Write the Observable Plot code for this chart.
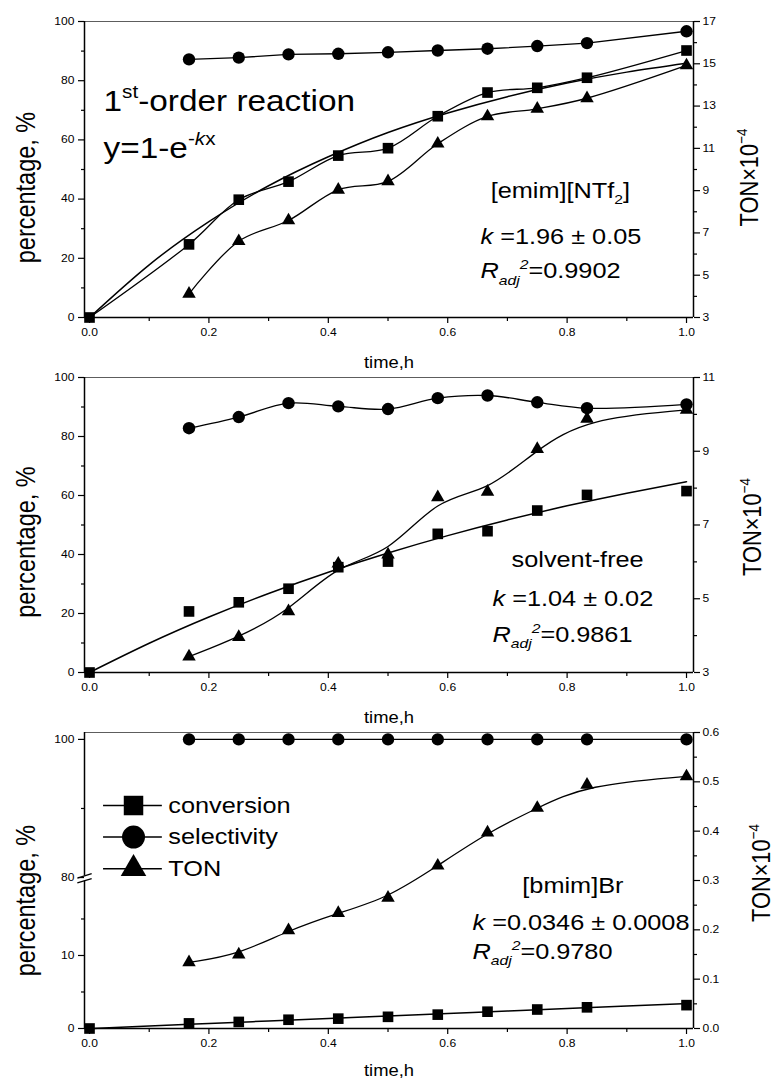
<!DOCTYPE html>
<html><head><meta charset="utf-8">
<script src="https://cdn.jsdelivr.net/npm/d3@7"></script>
<script src="https://cdn.jsdelivr.net/npm/@observablehq/plot@0.6"></script>
<style>body{margin:0;background:#fff}#chart{width:776px}#chart svg{display:block}</style>
</head><body><div id="chart"></div>
<script>
// ---------------- data ----------------
const times = [1/6, 0.25, 1/3, 5/12, 0.5, 7/12, 2/3, 0.75, 5/6, 1.0];
const convTimes = [0, 1/6, 0.25, 1/3, 5/12, 0.5, 7/12, 2/3, 0.75, 5/6, 1.0];
const fitTimes = [0, 0.1, 0.2, 0.3, 0.4, 0.5, 0.6, 0.7, 0.8, 0.9, 1.0];

// panel 1: [emim][NTf2]
const p1Conversion = [0, 24.7, 39.8, 45.9, 54.7, 57.2, 68.0, 76.0, 77.6, 81.0, 90.2];
const p1Selectivity = [87.2, 87.8, 88.9, 89.1, 89.6, 90.2, 90.8, 91.7, 92.7, 96.7];
const p1TON = [4.12, 6.61, 7.59, 9.04, 9.44, 11.22, 12.51, 12.87, 13.37, 14.92];
const p1Fit = [0, 17.8, 32.4, 44.5, 54.3, 62.5, 69.1, 74.6, 79.2, 82.9, 85.9];

// panel 2: solvent-free
const p2Conversion = [0, 20.7, 23.8, 28.4, 35.7, 37.6, 47.0, 47.9, 54.9, 60.2, 61.5];
const p2Selectivity = [82.8, 86.6, 91.3, 90.2, 89.3, 93.0, 93.9, 91.6, 89.6, 90.9];
const p2TON = [3.43, 3.96, 4.66, 5.95, 6.2, 7.75, 7.90, 9.06, 9.88, 10.12];
const p2Fit = [0, 9.9, 18.8, 26.8, 34.0, 40.5, 46.4, 51.7, 56.5, 60.8, 64.7];

// panel 3: [bmim]Br
const p3Conversion = [0, 0.7, 0.9, 1.2, 1.35, 1.6, 1.9, 2.3, 2.6, 2.9, 3.2];
const p3Selectivity = [100, 100, 100, 100, 100, 100, 100, 100, 100, 100];
const p3TON = [0.134, 0.150, 0.199, 0.234, 0.265, 0.330, 0.397, 0.447, 0.494, 0.511];
const p3Fit = [0, 0.35, 0.69, 1.03, 1.37, 1.71, 2.05, 2.39, 2.73, 3.07, 3.40];

// ticks
const xTicks = [0, 0.2, 0.4, 0.6, 0.8, 1.0];
const xMinor = [0.1, 0.3, 0.5, 0.7, 0.9];
const pctTicks = [0, 20, 40, 60, 80, 100];
const pctMinor = [10, 30, 50, 70, 90];
const p1TonTicks = [3, 5, 7, 9, 11, 13, 15, 17];
const p1TonMinor = [4, 6, 8, 10, 12, 14, 16];
const p2TonTicks = [3, 5, 7, 9, 11];
const p2TonMinor = [4, 6, 8, 10];
const p3PctTicks = [0, 10, 80, 100];
const p3PctMinor = [5, 15, 90];
const p3TonTicks = [0, 0.1, 0.2, 0.3, 0.4, 0.5, 0.6];
const p3TonMinor = [0.05, 0.15, 0.25, 0.35, 0.45, 0.55];

const legendLabels = ["conversion", "selectivity", "TON"];

// ---------------- layout / style ----------------
const FONT = "'Liberation Sans', Arial, Helvetica, sans-serif";
const W = 776, ML = 84, MR = 776 - 693;
const xDomain = [-0.0084, 1.0117];
const STRETCH = 1.15;

const RICH = {
  "1st-order reaction": [["1"], ["st", "sup"], ["-order reaction"]],
  "y=1-e-kx": [["y=1-e"], ["-", "sup"], ["k", "sup", "it"], ["x", "sup"]],
  "[emim][NTf2]": [["[emim][NTf"], ["2", "sub"], ["]"]],
  "k =1.96 ± 0.05": [["k", "it"], [" =1.96 ± 0.05"]],
  "k =1.04 ± 0.02": [["k", "it"], [" =1.04 ± 0.02"]],
  "k =0.0346 ± 0.0008": [["k", "it"], [" =0.0346 ± 0.0008"]],
  "Radj2=0.9902": [["R", "it"], ["adj", "sub", "it"], ["2", "sup", "it"], ["=0.9902"]],
  "Radj2=0.9861": [["R", "it"], ["adj", "sub", "it"], ["2", "sup", "it"], ["=0.9861"]],
  "Radj2=0.9780": [["R", "it"], ["adj", "sub", "it"], ["2", "sup", "it"], ["=0.9780"]],
  "TON×10-4": [["TON×10"], ["−4", "sup"]]
};

function finish(svg) {
  svg.querySelectorAll("text").forEach(t => {
    const segs = RICH[t.textContent];
    if (segs) {
      const fs = parseFloat(getComputedStyle(t).fontSize);
      t.textContent = "";
      let shift = 0;
      for (const [s, ...f] of segs) {
        const ts = document.createElementNS("http://www.w3.org/2000/svg", "tspan");
        ts.textContent = s;
        const sup = f.includes("sup"), sub = f.includes("sub");
        const target = sup ? -0.42 * fs : sub ? 0.28 * fs : 0;
        if (target !== shift) ts.setAttribute("dy", target - shift);
        shift = target;
        if (sup || sub) ts.setAttribute("font-size", 0.62 * fs);
        if (f.includes("it")) ts.setAttribute("font-style", "italic");
        t.appendChild(ts);
      }
    }
    const tr = t.getAttribute("transform") || "";
    t.setAttribute("transform", tr + (tr.includes("rotate") ? ` scale(1,${STRETCH})` : ` scale(${STRETCH},1)`));
  });
}

function axes(o) {
  return [
    Plot.axisX({ticks: xTicks, tickFormat: d3.format(".1f"), tickSize: 6, tickPadding: 5, strokeWidth: 1.2, label: null}),
    Plot.axisX({ticks: xMinor, tickSize: 4, strokeWidth: 1.2, fill: "none", label: null}),
    Plot.axisY({ticks: o.leftTicks, tickFormat: o.leftFmt, tickSize: 6, tickPadding: 4, strokeWidth: 1.2, label: null}),
    Plot.axisY({ticks: o.leftMinor, tickSize: 3, strokeWidth: 1.2, fill: "none", label: null}),
    Plot.axisY({anchor: "right", ticks: o.rightTicks, tickFormat: o.rightFmt, tickSize: 6, tickPadding: 3, strokeWidth: 1.2, label: null}),
    Plot.axisY({anchor: "right", ticks: o.rightMinor, tickSize: 3, strokeWidth: 1.2, fill: "none", label: null}),
    Plot.ruleY([o.yDomain[1]], {stroke: "#333", strokeWidth: 0.8}),
    Plot.ruleY([o.yDomain[0]], {strokeWidth: 1.5}),
    Plot.ruleX([xDomain[1]], {strokeWidth: 1.5}),
    Plot.text(["percentage, %"], {text: d => d, frameAnchor: "left", rotate: -90, dx: -50, dy: o.pctDy, lineAnchor: "bottom", textAnchor: "middle", fontSize: 23.5}),
    Plot.text(["TON×10-4"], {text: d => d, frameAnchor: "right", rotate: -90, dx: o.tonDx, dy: o.tonDy, lineAnchor: "bottom", textAnchor: "middle", fontSize: 21.8}),
    Plot.text(["time,h"], {text: d => d, frameAnchor: "bottom", dy: o.timeDy, lineAnchor: "bottom", textAnchor: "middle", fontSize: 16})
  ];
}

function series(o) {
  const m = [];
  m.push(Plot.line(fitTimes, {x: fitTimes, y: o.fit, curve: "natural", strokeWidth: 1.5}));
  if (o.convLine) m.push(Plot.line(convTimes, {x: convTimes, y: o.conv, curve: "catmull-rom", strokeWidth: 1.3}));
  m.push(Plot.line(times, {x: times, y: o.sel, curve: o.selCurve, strokeWidth: 1.3}));
  m.push(Plot.line(times, {x: times, y: o.ton, curve: o.tonCurve, strokeWidth: 1.3}));
  m.push(Plot.dot(convTimes, {x: convTimes, y: o.conv, symbol: "square", r: 6, fill: "black"}));
  m.push(Plot.dot(times, {x: times, y: o.sel, symbol: "circle", r: 6.2, fill: "black"}));
  m.push(Plot.dot(times, {x: times, y: o.ton, symbol: "triangle", r: 5, fill: "black"}));
  return m;
}

function notes(list, fs) {
  return list.map(([t, x, y, size]) => Plot.text([t], {text: d => d, x: x, y: y, textAnchor: "start", lineAnchor: "bottom", fontSize: size || fs}));
}

function render(opts, marks) {
  const svg = Plot.plot({
    width: W, height: opts.height,
    marginLeft: ML, marginRight: MR, marginTop: opts.mt, marginBottom: opts.mb,
    style: {fontFamily: FONT, fontSize: "10.5px", color: "black", background: "white", overflow: "visible"},
    x: {domain: xDomain},
    y: {domain: opts.yDomain},
    marks
  });
  document.getElementById("chart").append(svg);
  finish(svg);
}

// ---------------- panel 1 ----------------
{
  const ton = v => (v - 3) / 14 * 100;
  const tonInv = p => p * 14 / 100 + 3;
  render({height: 372, mt: 21, mb: 55, yDomain: [0, 100]}, [
    ...axes({yDomain: [0, 100], leftTicks: pctTicks, leftMinor: pctMinor, leftFmt: d => String(d),
      rightTicks: p1TonTicks.map(ton), rightMinor: p1TonMinor.map(ton), rightFmt: d => String(Math.round(tonInv(d))),
      pctDy: 18, tonDx: 64, tonDy: 8, timeDy: 50}),
    Plot.ruleX([xDomain[0]], {strokeWidth: 1.5}),
    ...series({conv: p1Conversion, convLine: true, sel: p1Selectivity, ton: p1TON.map(ton), fit: p1Fit, selCurve: "linear", tonCurve: "catmull-rom"}),
    ...notes([
      ["1st-order reaction", 0.0235, 69.9, 29],
      ["y=1-e-kx", 0.0235, 54.05, 29],
      ["[emim][NTf2]", 0.672, 40.5],
      ["k =1.96 ± 0.05", 0.655, 25.0],
      ["Radj2=0.9902", 0.655, 13.2]
    ], 22)
  ]);
}

// ---------------- panel 2 ----------------
{
  const ton = v => (v - 3) / 8 * 100;
  const tonInv = p => p * 8 / 100 + 3;
  render({height: 355, mt: 5, mb: 55, yDomain: [0, 100]}, [
    ...axes({yDomain: [0, 100], leftTicks: pctTicks, leftMinor: pctMinor, leftFmt: d => String(d),
      rightTicks: p2TonTicks.map(ton), rightMinor: p2TonMinor.map(ton), rightFmt: d => String(Math.round(tonInv(d))),
      pctDy: 17, tonDx: 67, tonDy: 2, timeDy: 50}),
    Plot.ruleX([xDomain[0]], {strokeWidth: 1.5}),
    ...series({conv: p2Conversion, convLine: false, sel: p2Selectivity, ton: p2TON.map(ton), fit: p2Fit, selCurve: "catmull-rom", tonCurve: "basis"}),
    ...notes([
      ["solvent-free", 0.707, 35.6],
      ["k =1.04 ± 0.02", 0.675, 22.7],
      ["Radj2=0.9861", 0.675, 10.3]
    ], 22)
  ]);
}

// ---------------- panel 3 (broken left axis) ----------------
{
  const pct = p => p <= 20 ? p * 0.0148 : 0.306 + (p - 80) * 0.014;
  const pctInv = y => y <= 0.3 ? y / 0.0148 : 80 + (y - 0.306) / 0.014;
  const x0 = xDomain[0];
  const yLow = 0.299, yHigh = 0.309;
  const breaks = [yLow, yHigh];
  const legendSymbols = ["square", "circle", "triangle"];
  const legendR = [11, 11.5, 9.5];
  const ly = i => 0.452 - i * 0.064;
  render({height: 355, mt: 5, mb: 54, yDomain: [0, 0.6]}, [
    ...axes({yDomain: [0, 0.6], leftTicks: p3PctTicks.map(pct), leftMinor: p3PctMinor.map(pct), leftFmt: d => String(Math.round(pctInv(d))),
      rightTicks: p3TonTicks, rightMinor: p3TonMinor, rightFmt: d3.format(".1f"),
      pctDy: 20, tonDx: 76, tonDy: -7.5, timeDy: 47}),
    Plot.ruleX([x0], {y1: 0, y2: yLow, strokeWidth: 1.5}),
    Plot.ruleX([x0], {y1: yHigh, y2: 0.6, strokeWidth: 1.5}),
    Plot.link(breaks, {x1: x0 - 0.012, x2: x0 + 0.012, y1: d => d - 0.004, y2: d => d + 0.005, strokeWidth: 1.3}),
    ...series({conv: p3Conversion.map(pct), convLine: false, sel: p3Selectivity.map(pct), ton: p3TON, fit: p3Fit.map(pct), selCurve: "linear", tonCurve: "basis"}),
    // legend
    Plot.ruleY(legendLabels, {y: (d, i) => ly(i), x1: 0.0235, x2: 0.122, strokeWidth: 1.5}),
    ...legendSymbols.map((s, i) => Plot.dot([legendLabels[i]], {x: 0.0737, y: ly(i), symbol: s, r: legendR[i], fill: "black"})),
    Plot.text(legendLabels, {text: d => d, x: 0.132, y: (d, i) => ly(i), textAnchor: "start", lineAnchor: "middle", fontSize: 22}),
    ...notes([
      ["[bmim]Br", 0.725, 0.2737],
      ["k =0.0346 ± 0.0008", 0.6415, 0.1987],
      ["Radj2=0.9780", 0.6415, 0.1413]
    ], 22)
  ]);
}
</script>
</body></html>
